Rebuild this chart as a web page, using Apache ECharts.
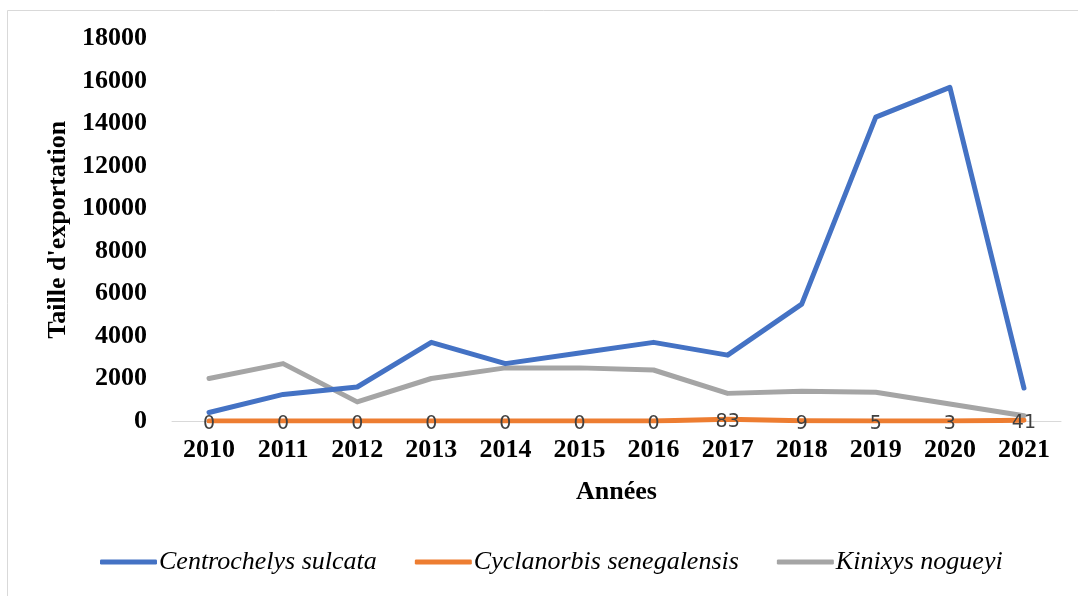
<!DOCTYPE html>
<html>
<head>
<meta charset="utf-8">
<script src="https://cdn.jsdelivr.net/npm/echarts@6/dist/echarts.min.js"></script>
<style>
  html, body { margin: 0; padding: 0; background: #fff; }
  #chart { width: 1078px; height: 596px; }
</style>
</head>
<body>
<div id="chart"></div>
<script>
// années
var years = ['2010','2011','2012','2013','2014','2015','2016','2017','2018','2019','2020','2021'];

// valeurs
var sulcata = [400, 1250, 1600, 3700, 2700, 3200, 3700, 3100, 5500, 14300, 15700, 1550];
var senegalensis = [0, 0, 0, 0, 0, 0, 0, 83, 9, 5, 3, 41];
var nogueyi = [2000, 2700, 900, 2000, 2500, 2500, 2400, 1300, 1400, 1350, 800, 250];

var serif = '"Liberation Serif", "Times New Roman", serif';

var myChart = echarts.init(document.getElementById('chart'));

var option = {
    backgroundColor: '#fff',
    animation: false,
    graphic: [{
        type: 'rect',
        shape: { x: 7.5, y: 10.5, width: 1090, height: 600 },
        style: { fill: 'none', stroke: '#D9D9D9', lineWidth: 1 }
    }],
    grid: { left: 172, right: 17, top: 38.5, bottom: 175 },
    legend: {
        bottom: 16,
        left: 95,
        itemWidth: 57,
        itemHeight: 5,
        itemGap: 38,
        icon: 'roundRect',
        textStyle: { fontFamily: serif, fontStyle: 'italic', fontSize: 26, color: '#000', padding: [0, 0, 0, -3] },
        data: ['Centrochelys sulcata', 'Cyclanorbis senegalensis', 'Kinixys nogueyi']
    },
    xAxis: {
        type: 'category',
        data: years,
        boundaryGap: true,
        name: 'Années',
        nameLocation: 'middle',
        nameGap: 58,
        nameTextStyle: { fontFamily: serif, fontWeight: 'bold', fontSize: 26, color: '#000' },
        axisLine: { lineStyle: { color: '#D9D9D9', width: 1 } },
        axisTick: { show: false },
        axisLabel: { fontFamily: serif, fontWeight: 'bold', fontSize: 26, color: '#000', margin: 16 }
    },
    yAxis: {
        type: 'value',
        min: 0,
        max: 18000,
        interval: 2000,
        name: "Taille d'exportation",
        nameLocation: 'middle',
        nameGap: 97,
        nameTextStyle: { fontFamily: serif, fontWeight: 'bold', fontSize: 26, color: '#000' },
        axisLine: { show: false },
        axisTick: { show: false },
        splitLine: { show: false },
        axisLabel: {
            fontFamily: serif, fontWeight: 'bold', fontSize: 26, color: '#000', margin: 25,
            formatter: function(v){ return String(v); }
        }
    },
    series: [
        {
            name: 'Centrochelys sulcata',
            type: 'line',
            data: sulcata,
            showSymbol: false,
            color: '#4472C4',
            lineStyle: { width: 5, cap: 'round', join: 'round' }
        },
        {
            name: 'Cyclanorbis senegalensis',
            type: 'line',
            data: senegalensis,
            symbol: 'circle',
            symbolSize: 0,
            showSymbol: true,
            color: '#ED7D31',
            lineStyle: { width: 5, cap: 'round', join: 'round' },
            label: {
                show: true,
                position: 'inside',
                offset: [0, 3],
                fontFamily: '"DejaVu Sans", sans-serif',
                fontSize: 19,
                color: '#404040'
            },
            z: 3
        },
        {
            name: 'Kinixys nogueyi',
            type: 'line',
            data: nogueyi,
            showSymbol: false,
            color: '#A5A5A5',
            lineStyle: { width: 5, cap: 'round', join: 'round' },
            z: 1
        }
    ]
};

myChart.setOption(option);
</script>
</body>
</html>
